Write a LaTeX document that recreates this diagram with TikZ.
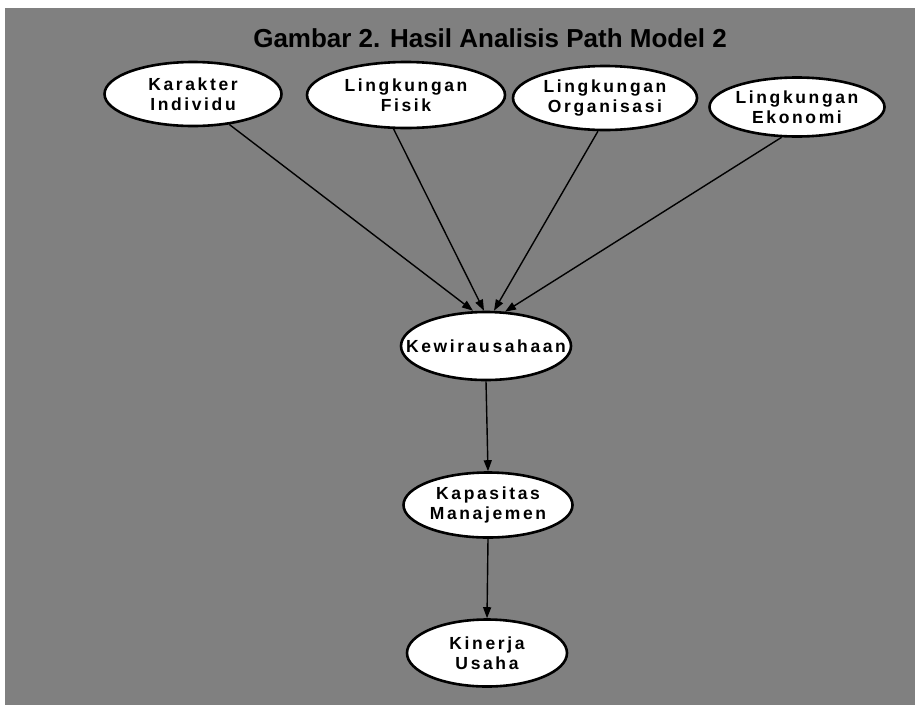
\documentclass[tikz,border=0pt]{standalone}
\usepackage{fontspec}
\setmainfont{Liberation Sans}
\newfontfamily\nodefont[LetterSpace=15]{Liberation Sans}
\usetikzlibrary{shapes.geometric,arrows.meta,calc}
\begin{document}
\begin{tikzpicture}[x=1pt,y=-1pt,
  var/.style={ellipse,draw=black,line width=2.6pt,fill=white,inner sep=0pt,align=center,
    font=\nodefont\bfseries\fontsize{17.5}{20.5}\selectfont},
  pathline/.style={line width=1.4pt,-{Triangle[length=11pt,width=8pt]}}]
\useasboundingbox (0,0) rectangle (915,705);
\fill[black!50] (5,8) rectangle (915,705);
\node[font=\bfseries\fontsize{26}{29}\selectfont] (title) at (490,38) {Gambar 2. Hasil Analisis Path Model 2};
\node[var,minimum width=177pt,minimum height=64pt] (kar) at (193,94) {Karakter\\Individu};
\node[var,minimum width=198pt,minimum height=66pt] (fis) at (406,95) {Lingkungan\\Fisik};
\node[var,minimum width=184pt,minimum height=64pt] (org) at (605,98) {Lingkungan\\Organisasi};
\node[var,minimum width=175pt,minimum height=59pt] (eko) at (797,107) {Lingkungan\\Ekonomi};
\node[var,inner xsep=-20pt,minimum width=170pt,minimum height=68pt] (kew) at (486,346) {Kewirausahaan};
\node[var,minimum width=169pt,minimum height=65pt] (kap) at (488,505) {Kapasitas\\Manajemen};
\node[var,minimum width=160pt,minimum height=67pt] (kin) at (487,653) {Kinerja\\Usaha};
\coordinate (t1) at ($(kew.north)+(-13,0)$);
\coordinate (t2) at ($(kew.north)+(-2,0)$);
\coordinate (t3) at ($(kew.north)+(8,0)$);
\coordinate (t4) at ($(kew.north)+(19,1)$);
\draw[pathline] (kar.-40) -- (t1);
\draw[pathline] (fis.250) -- (t2);
\draw[pathline] (org.258) -- (t3);
\draw[pathline] (eko.243) -- (t4);
\draw[pathline] (kew.south) -- (kap.north);
\draw[pathline] (kap.south) -- (kin.north);
\end{tikzpicture}
\end{document}
